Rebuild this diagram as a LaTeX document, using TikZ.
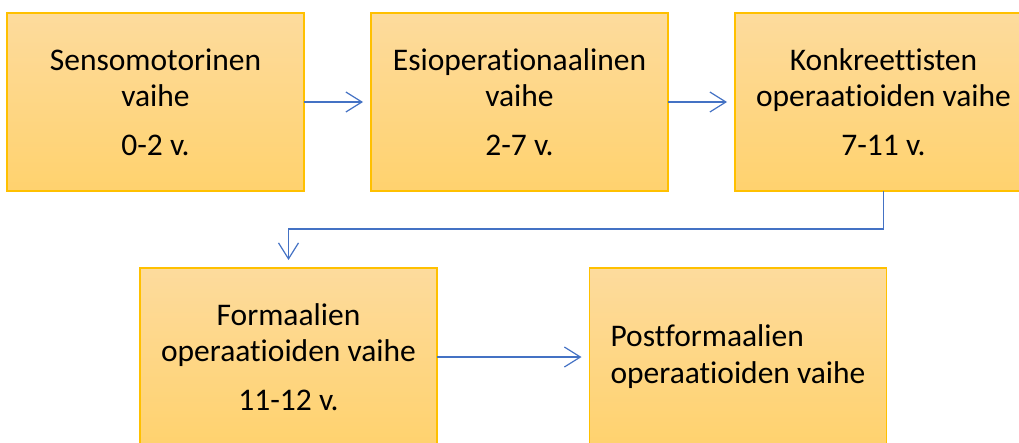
\documentclass[tikz,border=0pt]{standalone}
\usepackage{fontspec}
\setmainfont{Carlito}[Ligatures=NoCommon]
\usetikzlibrary{arrows.meta}
\definecolor{boxtop}{HTML}{FDDB9D}
\definecolor{boxbot}{HTML}{FFD26E}
\definecolor{boxline}{HTML}{FFC000}
\definecolor{arrblue}{HTML}{4472C4}
\tikzset{
  stage/.style={draw=boxline, line width=1.3pt, top color=boxtop, bottom color=boxbot,
    minimum width=297pt, minimum height=178pt, inner sep=0pt, outer sep=0pt,
    align=center, font=\fontsize{31.5}{36}\selectfont},
  flow/.style={draw=arrblue, line width=1.2pt, -{Straight Barb[length=16pt,width=20pt,line width=1.2pt]}, shorten >=8pt}
}
\begin{document}
\begin{tikzpicture}[x=1pt,y=-1pt]
\useasboundingbox (0,0) rectangle (1019,442);
\clip (0,0) rectangle (1019,442);
\node[stage] (b1) at (155.5,102) {Sensomotorinen\\vaihe\\[13pt]0-2 v.};
\node[stage] (b2) at (519.5,102) {Esioperationaalinen\\vaihe\\[13pt]2-7 v.};
\node[stage] (b3) at (883.5,102) {Konkreettisten\\operaatioiden vaihe\\[13pt]7-11 v.};
\node[stage] (b4) at (288.5,357) {Formaalien\\operaatioiden vaihe\\[13pt]11-12 v.};
\node[stage, align=left, font=\fontsize{31.5}{37}\selectfont] (b5) at (738,357) {Postformaalien\\operaatioiden vaihe};
\coordinate (m) at (0,229);
\draw[flow] (b1.east) -- (b2.west);
\draw[flow] (b2.east) -- (b3.west);
\draw[flow] (b3.south) -- (b3.south |- m) -- (b4.north |- m) -- (b4.north);
\draw[flow] (b4.east) -- (b5.west);
\end{tikzpicture}
\end{document}
